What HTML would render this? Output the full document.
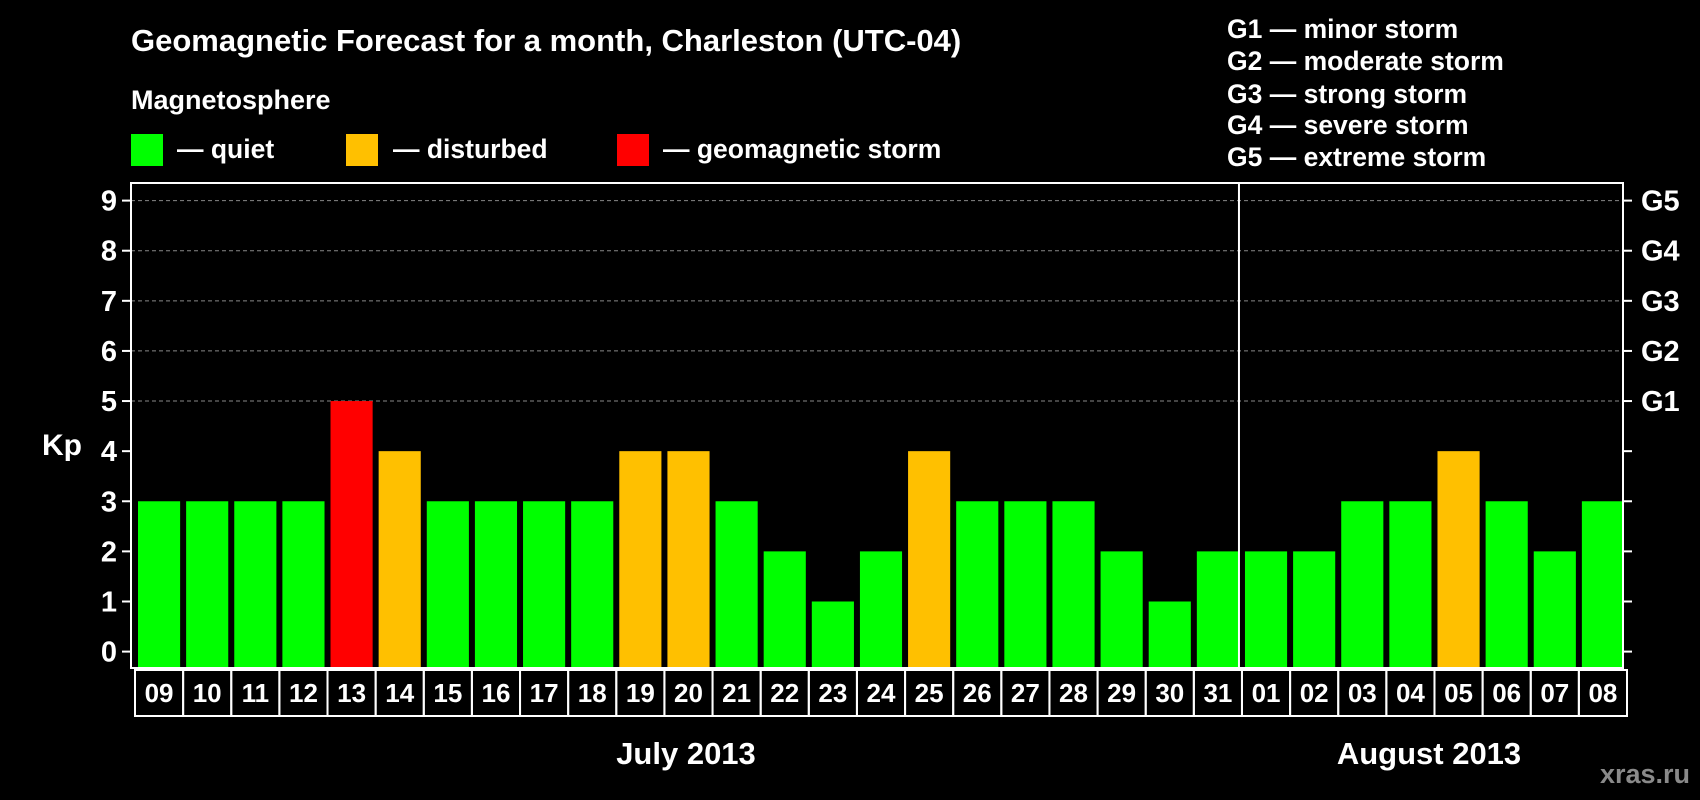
<!DOCTYPE html>
<html><head><meta charset="utf-8"><style>
html,body{margin:0;padding:0;background:#000;width:1700px;height:800px;overflow:hidden}
svg text{font-family:"Liberation Sans",Arial,sans-serif;font-weight:bold;fill:#fff}
</style></head><body>
<svg id="chart" width="1700" height="800" xmlns="http://www.w3.org/2000/svg">
<text x="131" y="51" font-size="31">Geomagnetic Forecast for a month, Charleston (UTC-04)</text>
<text x="131" y="109" font-size="27">Magnetosphere</text>
<rect x="131" y="134" width="32" height="32" fill="#00ff00"/>
<text x="177" y="158" font-size="26.5">— quiet</text>
<rect x="346" y="134" width="32" height="32" fill="#ffc000"/>
<text x="393" y="158" font-size="26.5">— disturbed</text>
<rect x="617" y="134" width="32" height="32" fill="#ff0000"/>
<text x="663" y="158" font-size="26.5">— geomagnetic storm</text>
<g font-size="26.5">
<text x="1227" y="38">G1 — minor storm</text>
<text x="1227" y="70">G2 — moderate storm</text>
<text x="1227" y="103">G3 — strong storm</text>
<text x="1227" y="134">G4 — severe storm</text>
<text x="1227" y="166">G5 — extreme storm</text>
</g>
<text x="42" y="455" font-size="30">Kp</text>
<text x="686" y="764" font-size="31" text-anchor="middle">July 2013</text>
<text x="1429" y="764" font-size="31" text-anchor="middle">August 2013</text>
<text x="1690" y="783" font-size="27" text-anchor="end" style="fill:#8a8a8a">xras.ru</text>
<g id="plot"></g>
</svg>
<script>
const days=["09","10","11","12","13","14","15","16","17","18","19","20","21","22","23","24","25","26","27","28","29","30","31","01","02","03","04","05","06","07","08"];
const kpValues=[3,3,3,3,5,4,3,3,3,3,4,4,3,2,1,2,4,3,3,3,2,1,2,2,2,3,3,4,3,2,3];
const yTicks=[0,1,2,3,4,5,6,7,8,9];
const gLabels=["","","","","","G1","G2","G3","G4","G5"];
const monthSplitIndex=23;

const NS="http://www.w3.org/2000/svg";
const g=document.getElementById('plot');
const L=131,R=1623,T=183,B=668,y0=651.6,unit=(651.6-200.6)/9;
const step=(R-L)/days.length;
const y=v=>y0-v*unit;
const x=i=>L+i*step;
function mk(t,a){const e=document.createElementNS(NS,t);for(const k in a)e.setAttribute(k,a[k]);g.appendChild(e);return e;}
yTicks.forEach(v=>{
  if(v>=5){const l=mk('line',{x1:L,x2:R,y1:y(v),y2:y(v),stroke:'#888','stroke-width':1,'stroke-dasharray':'4,3'});
  
  }
  const t1=mk('line',{x1:L-9,x2:L,y1:y(v),y2:y(v),stroke:'#fff','stroke-width':2});
  
  
  const t2=mk('line',{x1:R,x2:R+9,y1:y(v),y2:y(v),stroke:'#fff','stroke-width':2});
  
  
  const lb=mk('text',{x:117,y:y(v)+10,'font-size':29,'text-anchor':'end'});lb.textContent=v;
  
  
  if(gLabels[v]){const gl=mk('text',{x:1641,y:y(v)+10,'font-size':29});gl.textContent=gLabels[v];
  
  }
});
kpValues.forEach((v,i)=>{
  const c=v>=5?'#ff0000':(v>=4?'#ffc000':'#00ff00');
  const r=mk('rect',{x:x(i)+7,y:y(v),width:step-6,height:B-y(v)-1,fill:c});
  
  
  const bx=mk('rect',{x:x(i)+4,y:B+2,width:step,height:46,fill:'none',stroke:'#fff','stroke-width':2});
  
  
  const tl=mk('text',{x:x(i)+4+step/2,y:B+34,'font-size':26,'text-anchor':'middle'});tl.textContent=days[i];
  
  
});
const f=mk('rect',{x:L,y:T,width:R-L,height:B-T,fill:'none',stroke:'#fff','stroke-width':2});


const sp=mk('line',{x1:x(monthSplitIndex)+1,x2:x(monthSplitIndex)+1,y1:T,y2:B,stroke:'#fff','stroke-width':2});


</script>
</body></html>
